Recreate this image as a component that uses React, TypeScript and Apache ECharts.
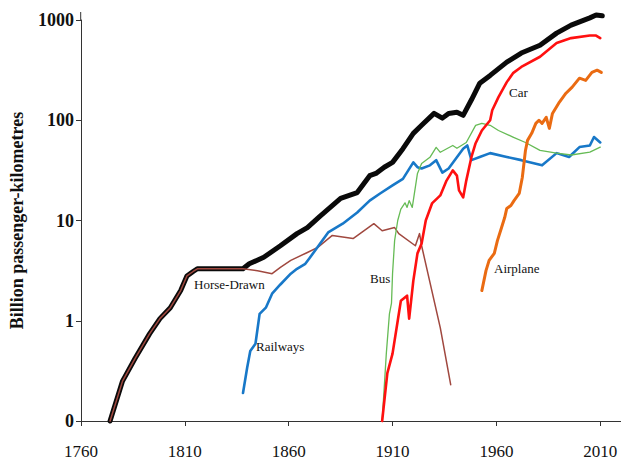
import React, { useEffect, useRef } from "react";
import * as echarts from "echarts";

const xTickValues = [1760, 1810, 1860, 1910, 1960, 2010];
const yLabelZero = "0";

const totalYears = [1774, 1780, 1786, 1793, 1798, 1803, 1808, 1811, 1814, 1816, 1838, 1841, 1848, 1856, 1864, 1869, 1875, 1880, 1885, 1893, 1899, 1902, 1906, 1910, 1915, 1920, 1924, 1930, 1934, 1937, 1941, 1944, 1948, 1952, 1957, 1965, 1972, 1981, 1989, 1996, 2005, 2008, 2011];
const totalValues = [0.1, 0.25, 0.42, 0.74, 1.05, 1.35, 2.0, 2.8, 3.1, 3.3, 3.3, 3.7, 4.3, 5.6, 7.4, 8.5, 11, 13.5, 16.6, 19, 28, 29.5, 34, 38, 52, 74, 89, 117, 105, 117, 120, 112, 160, 234, 280, 380, 468, 560, 740, 890, 1050, 1120, 1100];

const horseYears = [1774, 1780, 1786, 1793, 1798, 1803, 1808, 1811, 1814, 1816, 1838, 1845, 1852, 1856, 1861, 1869, 1874, 1881, 1891, 1901, 1905, 1911, 1913, 1921, 1923, 1924, 1933, 1938];
const horseValues = [0.1, 0.25, 0.42, 0.74, 1.05, 1.35, 2.0, 2.8, 3.1, 3.3, 3.3, 3.16, 2.95, 3.4, 4.0, 4.8, 5.4, 7.1, 6.6, 9.3, 7.9, 8.5, 7.4, 5.6, 7.4, 5.6, 0.85, 0.23];

const railYears = [1838, 1840, 1841.5, 1844, 1846, 1849, 1852, 1856, 1861, 1864, 1868, 1870, 1879, 1886, 1893, 1899, 1904, 1910, 1915, 1920, 1922, 1924, 1928, 1931, 1934, 1937, 1944, 1946, 1948, 1952, 1957, 1965, 1972, 1982, 1989, 1995, 2000, 2005, 2007, 2010];
const railValues = [0.19, 0.34, 0.5, 0.59, 1.17, 1.35, 1.86, 2.3, 2.95, 3.3, 3.7, 4.2, 7.6, 9.3, 12, 15.8, 18.6, 22.4, 26, 38, 34, 33, 35.5, 40, 30, 33, 52, 56, 40, 43, 47, 43, 40, 35.5, 47, 43, 54, 56, 68, 60];

const busYears = [1905, 1907, 1908.5, 1909.5, 1910, 1911, 1912.5, 1914, 1916, 1917, 1918, 1919.5, 1922, 1924, 1928, 1931, 1933, 1939, 1941, 1945.5, 1950, 1953, 1957, 1961, 1968, 1974, 1981, 1989, 1996, 2005, 2010];
const busValues = [0.1, 0.47, 1.17, 1.5, 2.95, 6.3, 10, 13, 15, 13.5, 15.8, 13.5, 29.5, 37, 42.7, 53.7, 47.9, 56, 52.5, 60, 89, 93, 89, 79, 68, 60, 50, 47, 45, 48, 54];

const carYears = [1905, 1907.5, 1910, 1912.5, 1914, 1917, 1918, 1920, 1922, 1924, 1926, 1929, 1933, 1936, 1939, 1941, 1942, 1944, 1945.5, 1948, 1950, 1953, 1957, 1958, 1961, 1965, 1968, 1972, 1981, 1989, 1996, 2005, 2008, 2010];
const carValues = [0.1, 0.3, 0.47, 1.0, 1.58, 1.78, 1.05, 2.5, 4.7, 5.9, 10, 14.8, 17.8, 25, 31.6, 28, 20, 17, 25, 43, 59, 79, 100, 126, 170, 240, 295, 340, 430, 590, 660, 700, 700, 660];

const airYears = [1953, 1955, 1956.5, 1959, 1960.5, 1962.5, 1964, 1965, 1967, 1968.5, 1971, 1972.5, 1974, 1975, 1977, 1979, 1980.5, 1982, 1984, 1985.5, 1987, 1990, 1993.5, 1996.5, 2000, 2003, 2006, 2008.5, 2010.5];
const airValues = [2.0, 3.16, 4.0, 4.7, 6.3, 8.5, 10.7, 13.2, 14.1, 15.8, 18.6, 27, 50, 63, 74, 93, 100, 93, 107, 83, 117, 148, 186, 214, 263, 250, 300, 316, 300];

const zip = (xs: number[], ys: number[]) => xs.map((x, i) => [x, ys[i]]);

const SERIF = "'Liberation Serif', 'Times New Roman', serif";

export default function App() {
  const ref = useRef<HTMLDivElement>(null);
  useEffect(() => {
    if (!ref.current) return;
    const chart = echarts.init(ref.current, undefined, { renderer: "svg" });
    const mk = (name: string, xs: number[], ys: number[], color: string, width: number) => ({
      name,
      type: "line",
      data: zip(xs, ys),
      showSymbol: false,
      symbol: "none",
      clip: false,
      lineStyle: { color, width, join: "round", cap: "round" },
    });
    const label = (text: string, x: number, y: number) => ({
      type: "text",
      x,
      y,
      style: {
        text,
        font: `13px ${SERIF}`,
        fill: "#111",
        align: "left",
        textAlign: "left",
        verticalAlign: "middle",
        textVerticalAlign: "middle",
      },
    });
    chart.setOption({
      animation: false,
      backgroundColor: "#fff",
      grid: { left: 80.7, right: 0, top: 20, bottom: 39 },
      xAxis: {
        type: "value",
        min: 1760,
        max: 2020,
        axisLine: { onZero: false, lineStyle: { color: "#333", width: 1 } },
        axisTick: { show: true, length: 5, customValues: xTickValues, lineStyle: { color: "#333" } },
        axisLabel: {
          customValues: xTickValues,
          margin: 22,
          color: "#111",
          fontFamily: SERIF,
          fontSize: 17,
          formatter: (v: number) => String(Math.round(v)),
        },
        splitLine: { show: false },
      },
      yAxis: {
        type: "log",
        logBase: 10,
        min: 0.1,
        max: 1000,
        name: "Billion passenger-kilometres",
        nameLocation: "middle",
        nameGap: 55,
        nameTextStyle: { fontFamily: SERIF, fontSize: 18, fontWeight: "bold", color: "#111" },
        axisLine: { show: true, onZero: false, lineStyle: { color: "#333", width: 1 } },
        axisTick: { show: true, length: 5, lineStyle: { color: "#333" } },
        axisLabel: {
          margin: 7,
          color: "#111",
          fontFamily: SERIF,
          fontSize: 18,
          fontWeight: "bold",
          formatter: (v: number) => (v < 0.5 ? yLabelZero : String(Math.round(v))),
        },
        splitLine: { show: false },
      },
      graphic: [
        { type: "line", shape: { x1: 80.7, y1: 12, x2: 80.7, y2: 20 }, style: { stroke: "#333", lineWidth: 1 } },
        label("Horse-Drawn", 194, 284),
        label("Railways", 256, 346),
        label("Bus", 370, 278),
        label("Car", 509, 92),
        label("Airplane", 494, 268),
      ],
      series: [
        mk("Total", totalYears, totalValues, "#0a0a0a", 5),
        mk("Horse-Drawn", horseYears, horseValues, "#a0483f", 1.5),
        mk("Railways", railYears, railValues, "#1878c8", 2.6),
        mk("Bus", busYears, busValues, "#66bb55", 1.3),
        mk("Car", carYears, carValues, "#ff1010", 2.6),
        mk("Airplane", airYears, airValues, "#ea6b12", 3),
      ],
    });
    return () => chart.dispose();
  }, []);
  return (
    <div
      ref={ref}
      style={{ position: "absolute", left: 0, top: 0, width: 621, height: 460, background: "#fff" }}
    />
  );
}
